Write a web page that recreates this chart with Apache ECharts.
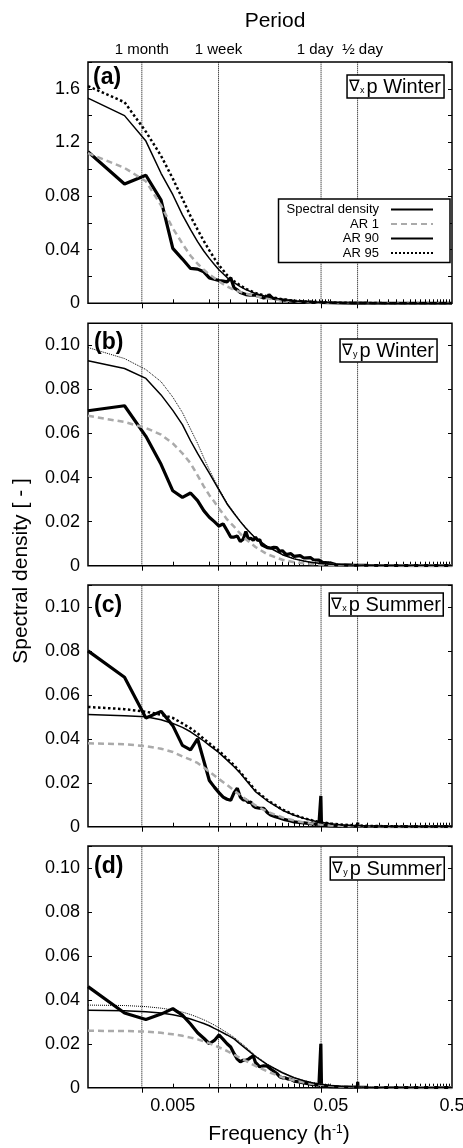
<!DOCTYPE html>
<html><head><meta charset="utf-8">
<script src="https://cdn.jsdelivr.net/npm/echarts@6/dist/echarts.min.js"></script>
<style>html,body{margin:0;padding:0;background:#fff}#c{width:463px;height:1148px}</style>
</head><body><div id="c"></div>
<script>
// ---------- DATA ----------
// frequency grid (h^-1) of the AR reference spectra
const freqAR = [0.0005,0.001,0.0015,0.002,0.0025,0.003,0.0035,0.004,0.0045,0.005,0.0055,0.006,0.007,0.008,0.009,0.01,0.012,0.015,0.02,0.025,0.03,0.035,0.04,0.05,0.06,0.075,0.1,0.15,0.25,0.5];

const ar1A  = [0.112,0.101,0.091,0.073,0.056,0.0445,0.0355,0.0295,0.025,0.0215,0.0188,0.0163,0.0125,0.010,0.0085,0.0072,0.0053,0.0037,0.0022,0.0015,0.0011,0.0008,0.0006,0.0004,0.0003,0.0002,0.0001,0.00006,0.00003,0.00001];
const ar90A = [0.153,0.140,0.121,0.097,0.081,0.066,0.055,0.046,0.039,0.0335,0.029,0.025,0.0192,0.0155,0.0125,0.0102,0.0073,0.0049,0.0028,0.0018,0.0013,0.001,0.0008,0.0005,0.0004,0.0003,0.0002,0.0001,0.00005,0.00003];
const ar95A = [0.162,0.150,0.128,0.110,0.093,0.078,0.065,0.055,0.0465,0.0395,0.0335,0.0285,0.021,0.0165,0.0133,0.0108,0.0077,0.0052,0.003,0.0019,0.0014,0.0011,0.0009,0.0006,0.0004,0.0003,0.0002,0.0001,0.00005,0.00003];

const ar1B  = [0.068,0.0652,0.0625,0.0595,0.0555,0.051,0.0465,0.041,0.036,0.032,0.029,0.026,0.021,0.0177,0.0145,0.012,0.0085,0.0052,0.0027,0.0016,0.0011,0.0008,0.0006,0.0004,0.0003,0.0002,0.0001,0.00006,0.00003,0.00001];
const ar90B = [0.093,0.0895,0.085,0.0775,0.0705,0.064,0.0567,0.051,0.0462,0.042,0.038,0.0344,0.028,0.0237,0.020,0.017,0.0125,0.0087,0.005,0.0031,0.0021,0.0015,0.0011,0.0007,0.0005,0.0003,0.0002,0.0001,0.00005,0.00002];
const ar95B = [0.099,0.094,0.089,0.0835,0.0765,0.0695,0.062,0.0555,0.049,0.0435,0.039,0.035,0.0285,0.024,0.0203,0.0173,0.0127,0.0089,0.0051,0.0032,0.0022,0.0016,0.0012,0.0007,0.0005,0.0003,0.0002,0.0001,0.00005,0.00002];

const ar1C  = [0.038,0.0375,0.0367,0.0355,0.034,0.032,0.0305,0.029,0.027,0.025,0.0233,0.0217,0.019,0.0165,0.0143,0.0125,0.0097,0.0068,0.0042,0.0028,0.0019,0.0014,0.001,0.0006,0.0004,0.0003,0.0002,0.0001,0.00005,0.00002];
const ar90C = [0.0511,0.0505,0.050,0.0487,0.047,0.0452,0.0432,0.041,0.039,0.037,0.0353,0.0337,0.0303,0.0273,0.0243,0.0213,0.016,0.0118,0.0075,0.0052,0.0038,0.0028,0.0021,0.0013,0.0009,0.0006,0.0004,0.0002,0.0001,0.00005];
const ar95C = [0.0545,0.0535,0.0523,0.051,0.0495,0.047,0.0448,0.0425,0.040,0.038,0.036,0.0345,0.031,0.028,0.0248,0.0218,0.0165,0.0122,0.0078,0.0054,0.0039,0.0029,0.0022,0.0014,0.001,0.0007,0.0004,0.0002,0.0001,0.00005];

const ar1D  = [0.0259,0.0258,0.0255,0.025,0.0243,0.0236,0.0228,0.022,0.0211,0.0202,0.0193,0.0184,0.0167,0.015,0.0135,0.0122,0.0099,0.0074,0.0047,0.0033,0.0024,0.0018,0.0014,0.0009,0.0006,0.0004,0.0002,0.0001,0.00005,0.00002];
const ar90D = [0.0352,0.035,0.0346,0.034,0.0332,0.0323,0.0313,0.0302,0.0292,0.0282,0.027,0.026,0.024,0.0222,0.0198,0.0178,0.0142,0.0105,0.0068,0.0045,0.0032,0.0023,0.0017,0.001,0.0007,0.0004,0.0002,0.0001,0.00005,0.00003];
const ar95D = [0.0376,0.0374,0.0369,0.0362,0.0354,0.0344,0.0333,0.0321,0.0309,0.0297,0.0285,0.0273,0.025,0.0229,0.0206,0.0185,0.0146,0.0108,0.007,0.0046,0.0033,0.0024,0.0018,0.0011,0.0007,0.0004,0.0002,0.0001,0.00005,0.00003];

// spectral density estimates
const freqSDa = [0.0005,0.001,0.0015,0.002,0.0025,0.003,0.0035,0.004,0.0045,0.005,0.0055,0.006,0.0065,0.007,0.0075,0.008,0.0085,0.009,0.01,0.011,0.012,0.013,0.014,0.015,0.0155,0.0165,0.018,0.02,0.0225,0.025,0.03,0.035,0.04,0.05,0.06,0.075,0.1,0.15,0.25,0.5];
const sdA = [0.113,0.089,0.0955,0.077,0.041,0.033,0.026,0.0255,0.0235,0.019,0.018,0.017,0.0165,0.016,0.019,0.0115,0.010,0.008,0.0065,0.006,0.006,0.005,0.004,0.0045,0.0065,0.004,0.003,0.0025,0.002,0.0015,0.001,0.0008,0.0006,0.0004,0.0003,0.0002,0.0001,0.00005,0.00003,0.00002];

const freqSDb = [0.0005,0.001,0.0015,0.002,0.0025,0.003,0.0035,0.004,0.0045,0.005,0.0055,0.006,0.0065,0.007,0.0075,0.008,0.0085,0.009,0.0095,0.01,0.0105,0.011,0.0115,0.012,0.0125,0.013,0.0135,0.014,0.015,0.016,0.017,0.018,0.019,0.02,0.0215,0.0235,0.025,0.028,0.03,0.034,0.036,0.04,0.0415,0.043,0.05,0.055,0.075,0.1,0.15,0.25,0.5];
const sdB = [0.0703,0.0726,0.0587,0.046,0.034,0.031,0.033,0.0295,0.025,0.022,0.020,0.018,0.019,0.016,0.013,0.013,0.0135,0.011,0.012,0.0155,0.012,0.0125,0.0115,0.013,0.0115,0.0118,0.0095,0.0088,0.0082,0.008,0.0083,0.0082,0.0065,0.0068,0.005,0.0055,0.0042,0.0046,0.0035,0.0037,0.0027,0.0025,0.0034,0.0015,0.0012,0.0005,0.0003,0.0002,0.0001,0.00005,0.00002];

const freqSDc = [0.0005,0.001,0.0015,0.002,0.0025,0.003,0.0035,0.004,0.0045,0.005,0.0055,0.006,0.0065,0.007,0.0075,0.008,0.0085,0.009,0.0095,0.01,0.0105,0.011,0.0115,0.012,0.013,0.014,0.015,0.016,0.0175,0.019,0.021,0.023,0.025,0.0275,0.03,0.0325,0.035,0.0375,0.04,0.041,0.0415,0.042,0.045,0.05,0.06,0.075,0.083,0.0835,0.084,0.1,0.15,0.25,0.5];
const sdC = [0.080,0.068,0.0495,0.0525,0.046,0.037,0.035,0.040,0.030,0.021,0.018,0.0155,0.0135,0.0125,0.012,0.0155,0.0175,0.0135,0.0122,0.0122,0.011,0.0112,0.0095,0.0088,0.0084,0.0084,0.0065,0.0053,0.0045,0.0040,0.0032,0.0027,0.0022,0.0019,0.0017,0.0015,0.0013,0.0012,0.0010,0.0012,0.0140,0.0010,0.0006,0.0004,0.0003,0.0002,0.0002,0.0018,0.0002,0.0001,0.00005,0.00003,0.00002];

const freqSDd = [0.0005,0.001,0.0015,0.002,0.0025,0.003,0.0035,0.004,0.0045,0.005,0.0055,0.006,0.0065,0.007,0.0075,0.008,0.0085,0.009,0.0095,0.01,0.0105,0.011,0.0115,0.012,0.0125,0.013,0.014,0.015,0.016,0.017,0.018,0.019,0.02,0.021,0.022,0.0235,0.025,0.0275,0.03,0.0325,0.035,0.0375,0.04,0.041,0.0415,0.042,0.045,0.05,0.06,0.075,0.083,0.0835,0.084,0.1,0.15,0.25,0.5];
const sdD = [0.046,0.034,0.031,0.0335,0.036,0.033,0.029,0.025,0.0225,0.020,0.0215,0.024,0.022,0.020,0.0185,0.0155,0.013,0.0118,0.0125,0.0125,0.013,0.0138,0.0145,0.0115,0.0105,0.0095,0.010,0.0098,0.0085,0.0075,0.0065,0.005,0.0045,0.0045,0.004,0.0038,0.003,0.0026,0.0022,0.0018,0.0015,0.0013,0.0011,0.0012,0.0200,0.0010,0.0007,0.0005,0.0004,0.0003,0.0003,0.0027,0.0003,0.0002,0.0001,0.00005,0.00002];

// axes / labels
const periodFreqs  = [1/720, 1/168, 1/24, 1/12];
const periodLabels = ['1 month', '1 week', '1 day', '½ day'];
const xLabelFreqs  = [0.0025, 0.05, 0.5];
const xLabels      = ['0.005', '0.05', '0.5'];
const xMinorTicks  = [0.0025,0.005,0.0075,0.01,0.0125,0.015,0.0175,0.02,0.0225,0.025,0.0275,0.03,0.0325,0.035,0.0375,0.04,0.0425,0.045,0.0475,0.05,0.075,0.1,0.125,0.15,0.175,0.2,0.225,0.25,0.275,0.3,0.325,0.35,0.375,0.4,0.425,0.45,0.475];
const yTicksA   = [0, 0.04, 0.08, 0.12, 0.16];
const yLabelsA  = ['0', '0.04', '0.08', '1.2', '1.6'];
const yTicksB   = [0, 0.02, 0.04, 0.06, 0.08, 0.10];
const yLabelsB  = ['0', '0.02', '0.04', '0.06', '0.08', '0.10'];
const panelTags = ['(a)', '(b)', '(c)', '(d)'];
const panelSub  = ['x', 'y', 'x', 'y'];
const panelSeason = ['Winter', 'Winter', 'Summer', 'Summer'];
const seriesNames = ['Spectral density', 'AR 1', 'AR 90', 'AR 95'];
const xTitle = 'Frequency (h{sup|-1})';
const yTitle = 'Spectral density [ - ]';
const topTitle = 'Period';

const panels = [
  {sdF: freqSDa, sd: sdA, ar1: ar1A, ar90: ar90A, ar95: ar95A, max: 0.18, yt: yTicksA, yl: yLabelsA},
  {sdF: freqSDb, sd: sdB, ar1: ar1B, ar90: ar90B, ar95: ar95B, max: 0.11, yt: yTicksB, yl: yLabelsB},
  {sdF: freqSDc, sd: sdC, ar1: ar1C, ar90: ar90C, ar95: ar95C, max: 0.11, yt: yTicksB, yl: yLabelsB},
  {sdF: freqSDd, sd: sdD, ar1: ar1D, ar90: ar90D, ar95: ar95D, max: 0.11, yt: yTicksB, yl: yLabelsB}
];

// ---------- LAYOUT / STYLE ----------
const FONT = '"Liberation Sans", Arial, Helvetica, sans-serif';
const gridPos = [
  {top: 62, height: 241.3},
  {top: 323.3, height: 242.4},
  {top: 585, height: 241.7},
  {top: 846, height: 241.7}
];
const tagPos  = [{left: 93, top: 66}, {left: 94, top: 331}, {left: 94, top: 594}, {left: 94, top: 855}];
const boxPos  = [{right: 19, top: 75}, {right: 26, top: 339}, {right: 19, top: 593}, {right: 18, top: 857}];
const ar95Width = [2.5, 1, 2.5, 1];

function pairs(xs, ys) { return xs.map((x, i) => [x, ys[i]]); }
function pick(vals, labs, v) {
  for (let i = 0; i < vals.length; i++) {
    const d = Math.abs(vals[i] - v);
    if (d < 1e-9 || (vals[i] !== 0 && d / Math.abs(vals[i]) < 1e-4)) return labs[i];
  }
  return '';
}
// vertical reference lines at the period frequencies, spanning the panel's value range
function periodLineData(max) {
  const out = [];
  periodFreqs.forEach(f => { out.push([f, 0], [f, max], [f, '-']); });
  return out;
}

const grid = [], xAxis = [], yAxis = [], series = [], title = [];
panels.forEach((p, i) => {
  grid.push({left: 88, width: 364, top: gridPos[i].top, height: gridPos[i].height,
    outerBoundsMode: 'none', containLabel: false,
    show: true, borderColor: '#000', borderWidth: 1.5, backgroundColor: 'transparent'});
  // bottom frequency axis
  xAxis.push({
    type: 'log', logBase: 10, gridIndex: i, min: 0.0005, max: 0.5, position: 'bottom',
    axisLine: {show: false}, splitLine: {show: false}, minorTick: {show: false},
    axisTick: {show: true, inside: true, length: 4, customValues: xMinorTicks, lineStyle: {color: '#000', width: 1}},
    axisLabel: {show: i === 3, customValues: xLabelFreqs, margin: 9, fontSize: 18, color: '#000', fontFamily: FONT,
      formatter: v => pick(xLabelFreqs, xLabels, v)},
    name: i === 3 ? xTitle : '', nameLocation: 'middle', nameGap: 36,
    nameTextStyle: {fontSize: 21, color: '#000', fontFamily: FONT, verticalAlign: 'top', padding: [0, 0, 0, 18],
      rich: {sup: {fontSize: 12, verticalAlign: 'top', color: '#000', fontFamily: FONT, padding: [0, 0, 8, 0]}}}
  });
  // top period axis
  xAxis.push({
    type: 'log', logBase: 10, gridIndex: i, min: 0.0005, max: 0.5, position: 'top',
    axisLine: {show: false}, splitLine: {show: false}, minorTick: {show: false},
    axisTick: {show: true, inside: true, length: 5, customValues: periodFreqs, lineStyle: {color: '#000', width: 1}},
    axisLabel: {show: i === 0, customValues: periodFreqs, margin: 5, fontSize: 15, color: '#000', fontFamily: FONT,
      formatter: v => { const s = pick(periodFreqs, periodLabels, v);
        return s === '1 day' ? '{l|' + s + '}' : (s === '½ day' ? '{r|' + s + '}' : s); },
      rich: {l: {fontSize: 15, fontFamily: FONT, color: '#000', padding: [0, 12, 0, 0]},
             r: {fontSize: 15, fontFamily: FONT, color: '#000', padding: [0, 0, 0, 10]}}},
    name: i === 0 ? topTitle : '', nameLocation: 'middle', nameGap: 30,
    nameTextStyle: {fontSize: 21, color: '#000', fontFamily: FONT, padding: [0, 0, 0, 10]}
  });
  const yCommon = {
    type: 'value', gridIndex: i, min: 0, max: p.max, interval: 0.02,
    axisLine: {show: false}, splitLine: {show: false},
    axisTick: {show: true, inside: true, length: 4, lineStyle: {color: '#000', width: 1}}
  };
  yAxis.push(Object.assign({}, yCommon, {position: 'left',
    axisLabel: {show: true, margin: 8, fontSize: 18, color: '#000', fontFamily: FONT,
      formatter: v => pick(p.yt, p.yl, v)}}));
  yAxis.push(Object.assign({}, yCommon, {position: 'right', axisLabel: {show: false}}));

  const ax = {xAxisIndex: 2 * i, yAxisIndex: 2 * i, type: 'line', symbol: 'none', showSymbol: false, animation: false};
  // vertical dotted period lines
  series.push(Object.assign({}, ax, {name: 'periods', data: periodLineData(p.max), silent: true, z: 1,
    connectNulls: false, lineStyle: {color: '#000', type: 'dotted', width: 1}}));
  series.push(Object.assign({}, ax, {name: seriesNames[0], data: pairs(p.sdF, p.sd), z: 3,
    lineStyle: {color: '#000', width: 3.2}, itemStyle: {color: '#000'}}));
  series.push(Object.assign({}, ax, {name: seriesNames[1], data: pairs(freqAR, p.ar1), z: 4,
    lineStyle: {color: '#aaaaaa', width: 2.5, type: [6, 4]}, itemStyle: {color: '#aaaaaa'}}));
  series.push(Object.assign({}, ax, {name: seriesNames[2], data: pairs(freqAR, p.ar90), z: 4,
    lineStyle: {color: '#000', width: 1.5}, itemStyle: {color: '#000'}}));
  series.push(Object.assign({}, ax, {name: seriesNames[3], data: pairs(freqAR, p.ar95), z: 4,
    lineStyle: {color: '#000', width: ar95Width[i], type: 'dotted'}, itemStyle: {color: '#000'}}));

  title.push({text: panelTags[i], left: tagPos[i].left, top: tagPos[i].top, padding: 0,
    textStyle: {fontSize: 23, fontWeight: 'bold', color: '#000', fontFamily: FONT}});
  title.push({text: '{v|∇}{s|' + panelSub[i] + '}{n|p ' + panelSeason[i] + '}',
    right: boxPos[i].right, top: boxPos[i].top, padding: [2, 3, 1, 2],
    borderColor: '#000', borderWidth: 1.5, backgroundColor: '#fff',
    textStyle: {fontSize: 20, fontWeight: 'normal', color: '#000', fontFamily: FONT,
      rich: {n: {fontSize: 20, color: '#000', fontFamily: FONT, verticalAlign: 'bottom'},
             v: {fontSize: 16, color: '#000', fontFamily: FONT, verticalAlign: 'bottom', padding: [0, 0, 2, 0]},
             s: {fontSize: 9, color: '#000', fontFamily: FONT, verticalAlign: 'bottom', padding: [0, 2, 2, 0]}}}});
});

const option = {
  animation: false,
  backgroundColor: '#fff',
  textStyle: {fontFamily: FONT},
  title: title,
  grid: grid, xAxis: xAxis, yAxis: yAxis, series: series,
  legend: {
    data: seriesNames, orient: 'vertical', align: 'right', right: 13, top: 199,
    padding: [4, 16, 3, 8], itemWidth: 42, itemHeight: 14, itemGap: 1.5,
    borderColor: '#000', borderWidth: 1.5, backgroundColor: '#fff', selectedMode: false,
    itemStyle: {opacity: 0},
    textStyle: {fontSize: 13, color: '#000', fontFamily: FONT, padding: [0, 7, 0, 0]}
  },
  graphic: [{type: 'text', x: 21, y: 571, rotation: Math.PI / 2,
    style: {text: yTitle, fontSize: 21, fontFamily: FONT, fill: '#000', align: 'center', verticalAlign: 'middle'}}]
};
echarts.init(document.getElementById('c'), null, {renderer: 'canvas'}).setOption(option);
</script></body></html>
